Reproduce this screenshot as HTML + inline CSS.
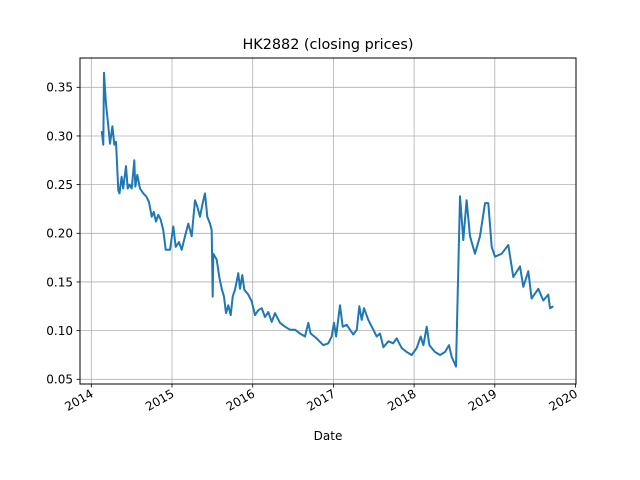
<!DOCTYPE html>
<html><head><meta charset="utf-8"><style>
html,body{margin:0;padding:0;background:#fff}
svg{display:block;font-family:"DejaVu Sans","Liberation Sans",sans-serif}
</style></head><body>
<svg id="chart" width="640" height="480" viewBox="0 0 640 480">
<rect width="640" height="480" fill="#fff"/>
<g id="grid"></g>
<g id="series"></g>
<rect x="80" y="58" width="496" height="326" fill="none" stroke="#000" stroke-width="1"/>
<g id="ticks"></g>
<text x="328" y="49" text-anchor="middle" font-size="14.4">HK2882 (closing prices)</text>
<text x="328" y="440" text-anchor="middle" font-size="12">Date</text>
</svg>
<script>
const xTicks=[2014,2015,2016,2017,2018,2019,2020];
const yTicks=[0.05,0.10,0.15,0.20,0.25,0.30,0.35];
const yTickLabels=["0.05","0.10","0.15","0.20","0.25","0.30","0.35"];
const dates=[2014.129,2014.149,2014.157,2014.178,2014.190,2014.211,2014.232,2014.261,2014.285,2014.306,2014.335,2014.350,2014.376,2014.395,2014.430,2014.451,2014.475,2014.500,2014.533,2014.545,2014.570,2014.603,2014.644,2014.680,2014.715,2014.748,2014.775,2014.802,2014.830,2014.860,2014.892,2014.922,2014.975,2015.016,2015.046,2015.087,2015.120,2015.161,2015.202,2015.244,2015.285,2015.315,2015.347,2015.380,2015.409,2015.438,2015.471,2015.492,2015.504,2015.512,2015.554,2015.586,2015.616,2015.644,2015.669,2015.698,2015.727,2015.752,2015.781,2015.822,2015.843,2015.871,2015.896,2015.946,2015.988,2016.028,2016.070,2016.111,2016.152,2016.193,2016.235,2016.276,2016.338,2016.400,2016.462,2016.524,2016.586,2016.648,2016.689,2016.718,2016.793,2016.875,2016.937,2016.979,2017.008,2017.033,2017.082,2017.115,2017.165,2017.206,2017.247,2017.290,2017.321,2017.351,2017.379,2017.433,2017.495,2017.536,2017.578,2017.619,2017.681,2017.740,2017.784,2017.846,2017.908,2017.970,2018.032,2018.082,2018.115,2018.156,2018.189,2018.259,2018.321,2018.383,2018.433,2018.466,2018.519,2018.569,2018.610,2018.651,2018.693,2018.755,2018.817,2018.879,2018.920,2018.961,2019.002,2019.085,2019.167,2019.229,2019.312,2019.353,2019.415,2019.456,2019.539,2019.601,2019.663,2019.684,2019.725];
const prices=[0.305,0.291,0.365,0.337,0.327,0.310,0.292,0.310,0.291,0.294,0.244,0.241,0.258,0.246,0.269,0.246,0.250,0.246,0.275,0.248,0.260,0.246,0.241,0.238,0.232,0.217,0.222,0.212,0.219,0.214,0.203,0.183,0.183,0.207,0.186,0.191,0.183,0.197,0.210,0.197,0.234,0.227,0.217,0.231,0.241,0.217,0.210,0.203,0.135,0.179,0.173,0.155,0.143,0.135,0.118,0.126,0.116,0.135,0.142,0.159,0.143,0.157,0.142,0.137,0.130,0.116,0.121,0.123,0.114,0.119,0.109,0.118,0.108,0.104,0.101,0.101,0.097,0.094,0.108,0.097,0.092,0.085,0.087,0.094,0.108,0.094,0.126,0.104,0.106,0.101,0.096,0.101,0.125,0.111,0.123,0.111,0.101,0.094,0.097,0.083,0.089,0.087,0.092,0.082,0.078,0.075,0.082,0.094,0.085,0.104,0.085,0.078,0.075,0.078,0.085,0.073,0.063,0.238,0.193,0.234,0.197,0.179,0.197,0.231,0.231,0.186,0.176,0.179,0.188,0.155,0.166,0.145,0.161,0.133,0.143,0.131,0.137,0.123,0.125];
const NS="http://www.w3.org/2000/svg";
function xs(t){return 91.3+(t-2014)*80.7;}
function ys(v){return 87.3+(0.35-v)*973.3;}
const grid=document.getElementById('grid'),ticks=document.getElementById('ticks'),series=document.getElementById('series');
function mk(tag,attrs,parent){const e=document.createElementNS(NS,tag);for(const k in attrs)e.setAttribute(k,attrs[k]);parent.appendChild(e);return e;}
xTicks.forEach(t=>{
  const x=xs(t);
  if(t<2020){const g=mk('line',{x1:x,x2:x,y1:58,y2:384,stroke:'#b0b0b0','stroke-width':0.8},grid);
  
  }
  const tk=mk('line',{x1:x,x2:x,y1:384,y2:387.5,stroke:'#000','stroke-width':0.8},ticks);
  
  
  const lb=mk('text',{x:x+3,y:396,'text-anchor':'end','font-size':12,transform:'rotate(-30 '+(x+3)+' 396)'},ticks);
  lb.textContent=String(t);
  
  
});
yTicks.forEach((v,i)=>{
  const y=ys(v);
  const g=mk('line',{x1:80,x2:576,y1:y,y2:y,stroke:'#b0b0b0','stroke-width':0.8},grid);
  
  
  const tk=mk('line',{x1:76.5,x2:80,y1:y,y2:y,stroke:'#000','stroke-width':0.8},ticks);
  
  
  const lb=mk('text',{x:73,y:y+4.3,'text-anchor':'end','font-size':12},ticks);
  lb.textContent=yTickLabels[i];
  
  
});
const d=dates.map((t,i)=>(i?'L':'M')+xs(t).toFixed(1)+' '+ys(prices[i]).toFixed(1)).join(' ');
const line=mk('path',{d:d,fill:'none',stroke:'#1f77b4','stroke-width':2,'stroke-linejoin':'round'},series);


</script>
</body></html>
